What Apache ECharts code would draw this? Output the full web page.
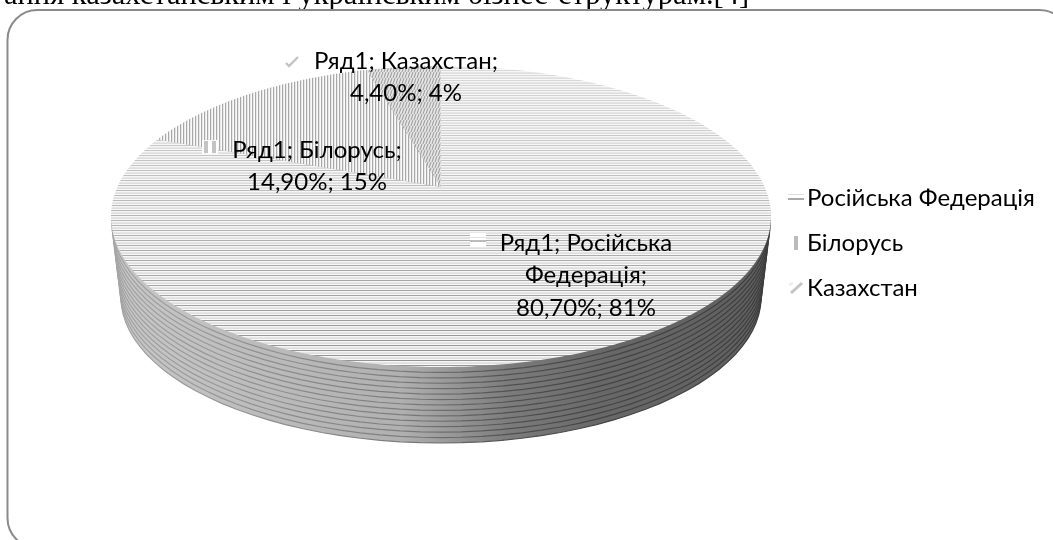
<!DOCTYPE html>
<html><head><meta charset="utf-8">
<style>html,body{margin:0;padding:0;background:#fff}#c{width:1053px;height:540px}</style>
<script src="https://cdn.jsdelivr.net/npm/echarts@6/dist/echarts.min.js"></script>
</head><body><div id="c"></div>
<script>
const categories = ['Російська Федерація','Білорусь','Казахстан'];
const values = [80.7,14.9,4.4];
const percentLabels = ['81%','15%','4%'];
const seriesName = 'Ряд1';
const headingText = 'ання казахстанським і українським бізнес-структурам.[4]';

const FONT = 'Lato, "Open Sans", "Noto Sans", sans-serif';
const FSIZE = 24;
const apex = {x:441,y:187}, R = 323.6, B = 144.7, K = 0.196, DEPTH = 81.4, BANDS = 14;

function cv(w,h,fn){const c=document.createElement('canvas');c.width=w;c.height=h;const g=c.getContext('2d');fn(g);return c;}
function grey(v){v=Math.round(v);return 'rgb('+v+','+v+','+v+')';}
const hatchH = cv(8,540,g=>{
  const seq=[null,246,230,222,248];
  for(let y=0;y<540;y++){
    const m=y%5;const t=Math.min(1,Math.max(0,(y-66)/290));
    g.fillStyle=m===0?grey(218-70*t):grey(seq[m]);
    g.fillRect(0,y,8,1);
  }
});
const hatchV = cv(3,3,g=>{
  g.fillStyle='#e8e8e8';g.fillRect(0,0,3,3);
  g.fillStyle='#a8a8a8';g.fillRect(0,0,1,3);
  g.fillStyle='#fafafa';g.fillRect(2,0,1,3);
});
const hatchD = cv(6,6,g=>{
  g.fillStyle='#e8e8e8';g.fillRect(0,0,6,6);
  g.strokeStyle='#a4a4a4';g.lineWidth=1.2;
  for(let i=-6;i<=12;i+=3){g.beginPath();g.moveTo(i,6);g.lineTo(i+2,0);g.stroke();}
});
const patterns = [hatchH,hatchV,hatchD].map(c=>({image:c,repeat:'repeat'}));

const keyH = cv(16,14,g=>{g.fillStyle='#fff';g.fillRect(0,0,16,14);g.fillStyle='#e2e2e2';g.fillRect(0,4,16,1);g.fillStyle='#bbb';g.fillRect(0,7,16,2);});
const keyV = cv(16,16,g=>{g.fillStyle='#fff';g.fillRect(0,0,16,16);g.fillStyle='#c4c4c4';g.fillRect(2,1,4,14);g.fillRect(10,1,4,14);});
const keyD = cv(16,14,g=>{g.strokeStyle='#c4c4c4';g.lineWidth=2.4;g.beginPath();g.moveTo(2,9);g.lineTo(5,12);g.lineTo(14,3);g.stroke();});
const keys=[keyH,keyV,keyD];
const legendH = cv(16,14,g=>{g.fillStyle='#ddd';g.fillRect(0,3,16,1);g.fillStyle='#aaa';g.fillRect(0,7,16,2);});
const legendV = cv(16,14,g=>{g.fillStyle='#bbb';g.fillRect(6,0,4,14);});
const legendD = cv(16,14,g=>{g.strokeStyle='#c4c4c4';g.lineWidth=3;g.beginPath();g.moveTo(3,12);g.lineTo(14,2);g.stroke();g.strokeStyle='#eee';g.beginPath();g.moveTo(1,4);g.lineTo(5,2);g.stroke();});
const legendIcons=[legendH,legendV,legendD];

const fmt=i=>values[i].toFixed(2).replace('.',',')+'%; '+percentLabels[i];
const labelLines = [
  [seriesName+'; Російська','Федерація;',fmt(0)],
  [seriesName+'; Білорусь;',fmt(1)],
  [seriesName+'; Казахстан;',fmt(2)]
];
const labelAnchor=[{x:586,y:243,kx:470,ky:233},{x:317,y:150,kx:202,ky:140},{x:406,y:61,kx:284,ky:54}];

function rim(theta,t){
  t=t||0;
  const s=Math.sin(theta),c=Math.cos(theta),w=1+K*c,sc=1-0.03*t;
  return [apex.x+R*s/w*sc, apex.y-B*c/w*sc+DEPTH*t];
}
const total=values.reduce((a,b)=>a+b,0);

function topFace(idx){
  return function(params,api){
    let start=0;for(let i=0;i<idx;i++)start+=values[i];
    const v=api.value(0);
    const a0=start/total*2*Math.PI,a1=(start+v)/total*2*Math.PI;
    const pts=[[apex.x,apex.y]];
    const n=Math.max(8,Math.round((a1-a0)*60));
    for(let i=0;i<=n;i++)pts.push(rim(a0+(a1-a0)*i/n));
    const kids=[{type:'polygon',shape:{points:pts},style:{fill:patterns[idx],stroke:null},z2:50}];
    const L=labelAnchor[idx];
    kids.push({type:'image',style:{image:keys[idx],x:L.kx,y:L.ky,width:16,height:14},z2:90});
    labelLines[idx].forEach((t,i)=>kids.push({type:'text',z2:100,style:{
      text:t,x:L.x,y:L.y+i*32.5,align:'center',verticalAlign:'middle',font:FSIZE+'px '+FONT,fill:'#000'}}));
    return {type:'group',children:kids};
  };
}

function sideFace(params,api){
  const kids=[];
  const sideFill=(stops)=>({type:'linear',x:112,y:0,x2:772,y2:0,global:true,colorStops:stops});
  const light=sideFill([{offset:0,color:'#c8c8c8'},{offset:.44,color:'#b0b0b0'},{offset:.6,color:'#7c7c7c'},{offset:.74,color:'#686868'},{offset:1,color:'#5e5e5e'}]);
  const dark=sideFill([{offset:0,color:'#a4a4a4'},{offset:.44,color:'#7c7c7c'},{offset:.6,color:'#505050'},{offset:.74,color:'#444'},{offset:1,color:'#3c3c3c'}]);
  for(let b=BANDS;b>=1;b--){
    const t=b/BANDS,pts=[];
    for(let i=0;i<=120;i++)pts.push(rim(i/120*2*Math.PI,t));
    kids.push({type:'polygon',shape:{points:pts},z2:BANDS-b+1,style:{fill:light,stroke:dark,lineWidth:1.2}});
  }
  return {type:'group',children:kids};
}

const chart=echarts.init(document.getElementById('c'),null,{renderer:'canvas'});
chart.setOption({
  animation:false,
  backgroundColor:'#fff',
  graphic:[
    {type:'text',z:0,left:4,top:-20,style:{text:headingText,font:'30.5px "Liberation Serif", serif',fill:'#000'}},
    {type:'rect',z:1,shape:{x:7.5,y:10,width:1062,height:538,r:30},style:{fill:'transparent',stroke:'#8a8a8a',lineWidth:2}}
  ],
  legend:{
    orient:'vertical',left:783,top:181,itemWidth:16,itemHeight:14,itemGap:21,
    textStyle:{fontFamily:FONT,fontSize:FSIZE,color:'#000',padding:[0,0,0,-2]},
    data:categories.map((n,i)=>({name:n,icon:'image://'+legendIcons[i].toDataURL()}))
  },
  series:[
    {type:'custom',name:'side',coordinateSystem:'none',renderItem:sideFace,data:[[total]],silent:true},
    ...categories.map((n,i)=>({type:'custom',name:n,coordinateSystem:'none',renderItem:topFace(i),data:[[values[i]]]}))
  ]
});
</script></body></html>
